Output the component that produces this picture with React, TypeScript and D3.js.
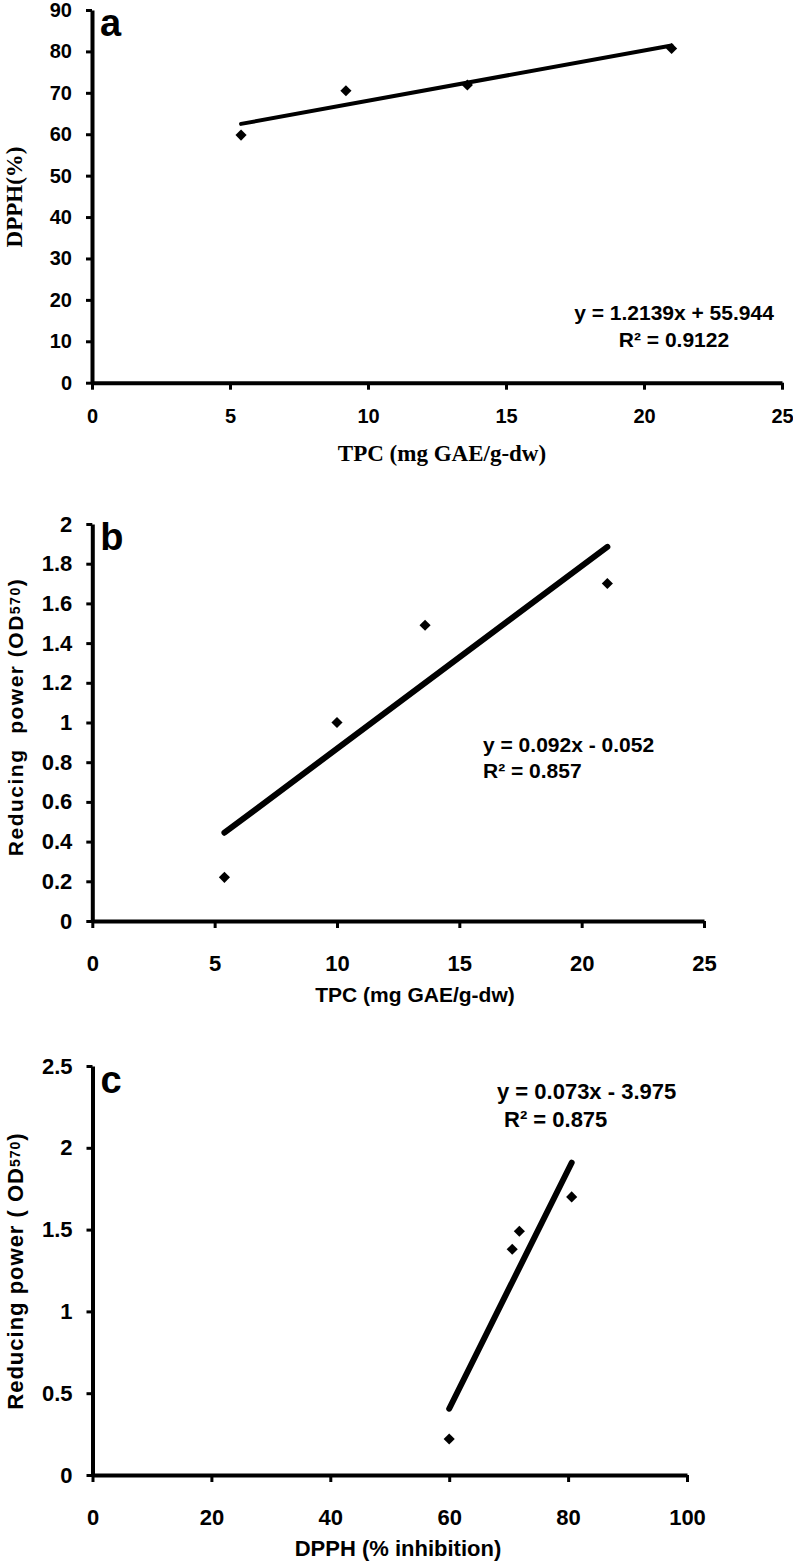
import React, { useEffect, useRef } from 'react';
import * as d3 from 'd3';

// panel a: DPPH vs TPC
const tpcA = [5.4, 9.2, 13.6, 21.0];
const dpphA = [59.8, 70.5, 71.9, 80.7];
const fitA = [1.2139, 55.944];
const eqA = ['y = 1.2139x + 55.944', 'R\u00b2 = 0.9122'];

// panel b: reducing power vs TPC
const tpcB = [5.4, 10.0, 13.6, 21.05];
const rpB = [0.22, 1.0, 1.49, 1.7];
const fitB = [0.092, -0.052];
const eqB = ['y = 0.092x - 0.052', 'R\u00b2 = 0.857'];

// panel c: reducing power vs DPPH
const dpphC = [60, 70.6, 71.8, 80.6];
const rpC = [0.22, 1.38, 1.49, 1.7];
const fitC = [0.073, -3.975];
const eqC = ['y = 0.073x - 3.975', 'R\u00b2 = 0.875'];

const xTicksTpc = [0, 5, 10, 15, 20, 25];
const yTicksA = [0, 10, 20, 30, 40, 50, 60, 70, 80, 90];
const yTicksB = [0, 0.2, 0.4, 0.6, 0.8, 1, 1.2, 1.4, 1.6, 1.8, 2];
const yTicksC = [0, 0.5, 1, 1.5, 2, 2.5];
const xTicksC = [0, 20, 40, 60, 80, 100];

const SANS = 'Liberation Sans, Arial, sans-serif';
const SERIF = 'Liberation Serif, Times New Roman, serif';

function drawPanel(svg, cfg) {
  const x = d3.scaleLinear().domain(cfg.xDomain).range(cfg.xRange);
  const y = d3.scaleLinear().domain(cfg.yDomain).range(cfg.yRange);
  const g = svg.append('g');

  const styleAxis = (ax, size) => {
    ax.attr('font-family', SANS).attr('font-size', size).attr('font-weight', 'bold');
    ax.select('.domain').attr('stroke', '#000').attr('stroke-width', 4);
    ax.selectAll('.tick line').attr('stroke', '#000').attr('stroke-width', 3);
    ax.selectAll('.tick text').attr('fill', '#000');
  };

  const yAxis = d3.axisLeft(y)
    .tickValues(cfg.yTicks)
    .tickSize(6)
    .tickSizeOuter(0)
    .tickPadding(14)
    .tickFormat(d => String(d));
  const ya = g.append('g')
    .attr('transform', 'translate(' + x(0) + ',0)')
    .call(yAxis);
  styleAxis(ya, cfg.tickFont);

  const xAxis = d3.axisBottom(x)
    .tickValues(cfg.xTicks)
    .tickSize(7)
    .tickSizeOuter(0)
    .tickPadding(cfg.xPad)
    .tickFormat(d => String(d));
  const xa = g.append('g')
    .attr('transform', 'translate(0,' + y(0) + ')')
    .call(xAxis);
  styleAxis(xa, cfg.tickFont);

  // trend line over the data range
  const xs = d3.extent(cfg.xs);
  const line = d3.line()
    .x(d => x(d))
    .y(d => y(cfg.fit[0] * d + cfg.fit[1]));
  g.append('path')
    .datum(xs)
    .attr('fill', 'none')
    .attr('stroke', '#000')
    .attr('stroke-width', cfg.lineWidth)
    .attr('stroke-linecap', 'round')
    .attr('d', line);

  // diamonds
  const sym = d3.symbol().type(d3.symbolSquare).size(62);
  g.selectAll('path.pt')
    .data(cfg.xs.map((v, i) => [v, cfg.ys[i]]))
    .enter()
    .append('path')
    .attr('class', 'pt')
    .attr('d', sym)
    .attr('fill', '#000')
    .attr('transform', d => 'translate(' + x(d[0]) + ',' + y(d[1]) + ') rotate(45)');

  // panel letter
  g.append('text')
    .attr('x', x(0) + 8)
    .attr('y', cfg.letterY)
    .attr('font-family', SANS)
    .attr('font-weight', 'bold')
    .attr('font-size', 38)
    .text(cfg.letter);

  // equation
  cfg.eq.forEach((t, i) => {
    g.append('text')
      .attr('x', cfg.eqX[i])
      .attr('y', cfg.eqY[i])
      .attr('text-anchor', cfg.eqAnchor)
      .attr('font-family', SANS)
      .attr('font-weight', 'bold')
      .attr('font-size', cfg.eqFont)
      .style('white-space', 'pre')
      .text(t);
  });

  // axis titles
  g.append('text')
    .attr('x', cfg.xTitle[0])
    .attr('y', cfg.xTitle[1])
    .attr('text-anchor', 'middle')
    .attr('font-family', cfg.titleFamily)
    .attr('font-weight', 'bold')
    .attr('font-size', cfg.titleFont)
    .text(cfg.xLabel);

  const yt = g.append('text')
    .attr('transform', 'translate(' + cfg.yTitle[0] + ',' + cfg.yTitle[1] + ') rotate(-90)')
    .attr('text-anchor', 'middle')
    .attr('font-family', cfg.titleFamily)
    .attr('font-weight', 'bold')
    .attr('font-size', cfg.titleFont)
    .attr('letter-spacing', cfg.ySpacing)
    .style('white-space', 'pre');
  yt.append('tspan').text(cfg.yLabel[0]);
  if (cfg.yLabel.length > 1) {
    yt.append('tspan').attr('font-size', 14).attr('dy', -3).text(cfg.yLabel[1]);
    yt.append('tspan').attr('dy', 3).text(cfg.yLabel[2]);
  }
}

export default function App() {
  const ref = useRef(null);

  useEffect(() => {
    const svg = d3.select(ref.current);
    svg.selectAll('*').remove();

    drawPanel(svg, {
      xDomain: [0, 25], xRange: [92, 782],
      yDomain: [0, 90], yRange: [382.7, 10],
      xTicks: xTicksTpc, yTicks: yTicksA,
      xs: tpcA, ys: dpphA, fit: fitA, lineWidth: 4,
      tickFont: 20, xPad: 19,
      letter: 'a', letterY: 36,
      eq: eqA, eqX: [674, 674], eqY: [320, 347], eqAnchor: 'middle', eqFont: 21,
      titleFamily: SERIF, titleFont: 23, ySpacing: 0,
      xLabel: 'TPC (mg GAE/g-dw)', xTitle: [442, 461],
      yLabel: ['DPPH(%)'], yTitle: [22, 197],
    });

    drawPanel(svg, {
      xDomain: [0, 25], xRange: [92.3, 704],
      yDomain: [0, 2], yRange: [921, 524],
      xTicks: xTicksTpc, yTicks: yTicksB,
      xs: tpcB, ys: rpB, fit: fitB, lineWidth: 6,
      tickFont: 22, xPad: 27,
      letter: 'b', letterY: 550,
      eq: eqB, eqX: [483, 483], eqY: [752, 778], eqAnchor: 'start', eqFont: 21,
      titleFamily: SANS, titleFont: 21, ySpacing: 1.5,
      xLabel: 'TPC (mg GAE/g-dw)', xTitle: [415, 1002],
      yLabel: ['Reducing  power (OD', '570', ')'], yTitle: [23, 717],
    });

    drawPanel(svg, {
      xDomain: [0, 100], xRange: [92.5, 687],
      yDomain: [0, 2.5], yRange: [1475, 1066],
      xTicks: xTicksC, yTicks: yTicksC,
      xs: dpphC, ys: rpC, fit: fitC, lineWidth: 6,
      tickFont: 22, xPad: 27,
      letter: 'c', letterY: 1093,
      eq: eqC, eqX: [497, 504], eqY: [1099, 1127], eqAnchor: 'start', eqFont: 22,
      titleFamily: SANS, titleFont: 22, ySpacing: 1,
      xLabel: 'DPPH (% inhibition)', xTitle: [398, 1556],
      yLabel: ['Reducing power ( OD', '570', ')'], yTitle: [23, 1271],
    });
  }, []);

  return (
    <svg
      ref={ref}
      width={793}
      height={1563}
      style={{ position: 'absolute', left: 0, top: 0, background: '#fff' }}
    />
  );
}
